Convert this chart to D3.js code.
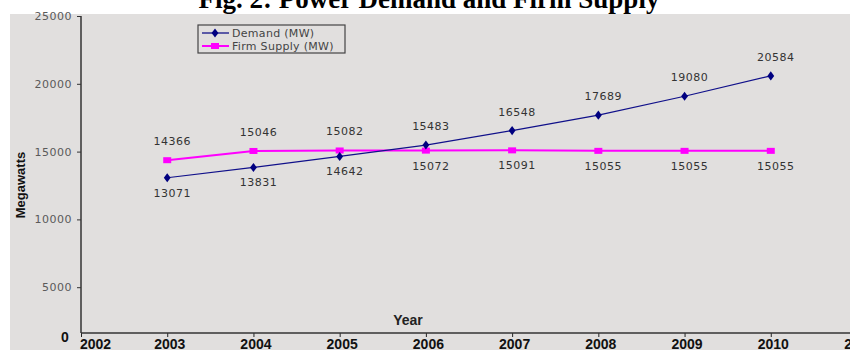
<!DOCTYPE html>
<html>
<head>
<meta charset="utf-8">
<script src="https://cdn.jsdelivr.net/npm/d3@7"></script>
<style>
  body { margin: 0; background: #fff; }
  svg { display: block; }
</style>
</head>
<body>
<div id="chart"></div>
<script>
// data
var years = [2003, 2004, 2005, 2006, 2007, 2008, 2009, 2010];
var demand = [13071, 13831, 14642, 15483, 16548, 17689, 19080, 20584];
var firmSupply = [14366, 15046, 15082, 15072, 15091, 15055, 15055, 15055];
var xTicks = [2002, 2003, 2004, 2005, 2006, 2007, 2008, 2009, 2010, 2011];
var yTicks = [5000, 10000, 15000, 20000, 25000];
var seriesNames = ["Demand (MW)", "Firm Supply (MW)"];

var width = 850, height = 350;
var axisX = 81, axisY = 333;   // where the two axis lines sit

var svg = d3.select("#chart").append("svg")
    .attr("width", width)
    .attr("height", height);

// grey plot area
svg.append("rect")
    .attr("x", 10).attr("y", 14)
    .attr("width", width - 10).attr("height", height - 14)
    .attr("fill", "#e1dfde");

// title, partly cut off at the top like the scan
svg.append("text")
    .attr("x", 429).attr("y", 8)
    .attr("text-anchor", "middle")
    .style("font-family", "'Liberation Serif', 'Times New Roman', serif")
    .style("font-weight", "bold")
    .style("font-size", "27px")
    .text("Fig. 2: Power Demand and Firm Supply");

var x = d3.scaleLinear()
    .domain([2002, 2011])
    .range([axisX, 857]);

var y = d3.scaleLinear()
    .domain([0, 25000])
    .range([355, 16]);

// x axis
var gx = svg.append("g")
    .attr("transform", "translate(0," + axisY + ")")
    .call(d3.axisBottom(x).tickValues(xTicks).tickFormat(d3.format("d")).tickSize(4).tickSizeOuter(0));
gx.select(".domain").remove();
gx.selectAll(".tick line").attr("stroke", "#222");
gx.selectAll(".tick text")
    .attr("y", 16).attr("dy", 0)
    .attr("dx", function(d) { return d == xTicks[0] ? 14 : 2; })  // first label sits clear of the "0"
    .attr("fill", "#111")
    .style("font-family", "'Liberation Sans', Arial, sans-serif")
    .style("font-weight", "bold")
    .style("font-size", "14px");

// y axis
var gy = svg.append("g")
    .attr("transform", "translate(" + axisX + ",0)")
    .call(d3.axisLeft(y).tickValues(yTicks).tickFormat(d3.format("d")).tickSize(4).tickPadding(5));
gy.select(".domain").remove();
gy.selectAll(".tick line").attr("stroke", "#333");
gy.selectAll(".tick text")
    .attr("fill", "#5a5a5a")
    .style("font-family", "'DejaVu Sans', sans-serif")
    .style("font-size", "11px")
    .style("letter-spacing", "0.5px");

// axis lines
svg.append("line")
    .attr("x1", axisX).attr("x2", axisX)
    .attr("y1", y(25000)).attr("y2", axisY)
    .attr("stroke", "#333").attr("stroke-width", 1.5);
svg.append("line")
    .attr("x1", axisX).attr("x2", width)
    .attr("y1", axisY).attr("y2", axisY)
    .attr("stroke", "#333").attr("stroke-width", 1.5);

// the lone "0" at the corner
svg.append("text")
    .attr("x", 65).attr("y", 342)
    .attr("text-anchor", "middle")
    .style("font-family", "'Liberation Sans', Arial, sans-serif")
    .style("font-weight", "bold")
    .style("font-size", "14px")
    .attr("fill", "#111")
    .text("0");

// axis titles
svg.append("text")
    .attr("x", 408).attr("y", 325)
    .attr("text-anchor", "middle")
    .style("font-family", "'Liberation Sans', Arial, sans-serif")
    .style("font-weight", "bold")
    .style("font-size", "14px")
    .attr("fill", "#222")
    .text("Year");

svg.append("text")
    .attr("transform", "translate(25,185) rotate(-90)")
    .attr("text-anchor", "middle")
    .style("font-family", "'Liberation Sans Narrow', 'Liberation Sans', Arial, sans-serif")
    .style("font-weight", "bold")
    .style("font-size", "13px")
    .attr("fill", "#111")
    .text("Megawatts");

var line = d3.line()
    .x(function(d) { return x(d.year); })
    .y(function(d) { return y(d.value); });

var demandData = years.map(function(yr, i) { return {year: yr, value: demand[i], other: firmSupply[i]}; });
var supplyData = years.map(function(yr, i) { return {year: yr, value: firmSupply[i], other: demand[i]}; });

// supply line (magenta, squares)
svg.append("path")
    .datum(supplyData)
    .attr("d", line)
    .attr("fill", "none")
    .attr("stroke", "#ff00ff")
    .attr("stroke-width", 2);

svg.selectAll(".supplyPt")
    .data(supplyData)
    .enter().append("rect")
    .attr("class", "supplyPt")
    .attr("x", function(d) { return x(d.year) - 4; })
    .attr("y", function(d) { return y(d.value) - 3; })
    .attr("width", 8).attr("height", 6)
    .attr("fill", "#ff00ff");

// demand line (navy, diamonds)
svg.append("path")
    .datum(demandData)
    .attr("d", line)
    .attr("fill", "none")
    .attr("stroke", "#10108a")
    .attr("stroke-width", 1.2);

var diamond = d3.symbol().type(d3.symbolDiamond).size(24);
svg.selectAll(".demandPt")
    .data(demandData)
    .enter().append("path")
    .attr("class", "demandPt")
    .attr("d", diamond)
    .attr("transform", function(d) { return "translate(" + x(d.year) + "," + y(d.value) + ") scale(1.3,1)"; })
    .attr("fill", "#000080");

// value labels: above when the series is on top, below otherwise
function addLabels(data) {
    svg.selectAll(null)
        .data(data)
        .enter().append("text")
        .attr("x", function(d) { return x(d.year) + 5; })
        .attr("y", function(d) { return y(d.value) + (d.value >= d.other ? -15 : 19); })
        .attr("text-anchor", "middle")
        .attr("fill", "#333")
        .style("font-family", "'DejaVu Sans', sans-serif")
        .style("font-size", "11px")
        .style("letter-spacing", "0.5px")
        .text(function(d) { return d.value; });
}
addLabels(demandData);
addLabels(supplyData);

// legend
var legend = svg.append("g").attr("transform", "translate(198,25)");
legend.append("rect")
    .attr("width", 147).attr("height", 28)
    .attr("fill", "#e1dfde")
    .attr("stroke", "#444").attr("stroke-width", 1.2);

var legendColors = ["#000080", "#ff00ff"];
seriesNames.forEach(function(name, i) {
    var ly = 8 + i * 13;
    legend.append("line")
        .attr("x1", 4).attr("x2", 31)
        .attr("y1", ly).attr("y2", ly)
        .attr("stroke", legendColors[i])
        .attr("stroke-width", i == 0 ? 1.2 : 2);
    if (i == 0) {
        legend.append("path")
            .attr("d", diamond)
            .attr("transform", "translate(17," + ly + ") scale(1.3,1)")
            .attr("fill", legendColors[i]);
    } else {
        legend.append("rect")
            .attr("x", 13).attr("y", ly - 3)
            .attr("width", 8).attr("height", 6)
            .attr("fill", legendColors[i]);
    }
    legend.append("text")
        .attr("x", 34).attr("y", ly + 4)
        .attr("fill", "#444")
        .style("font-family", "'DejaVu Sans', sans-serif")
        .style("font-size", "11px")
        .style("letter-spacing", "0.3px")
        .text(name);
});
</script>
</body>
</html>
